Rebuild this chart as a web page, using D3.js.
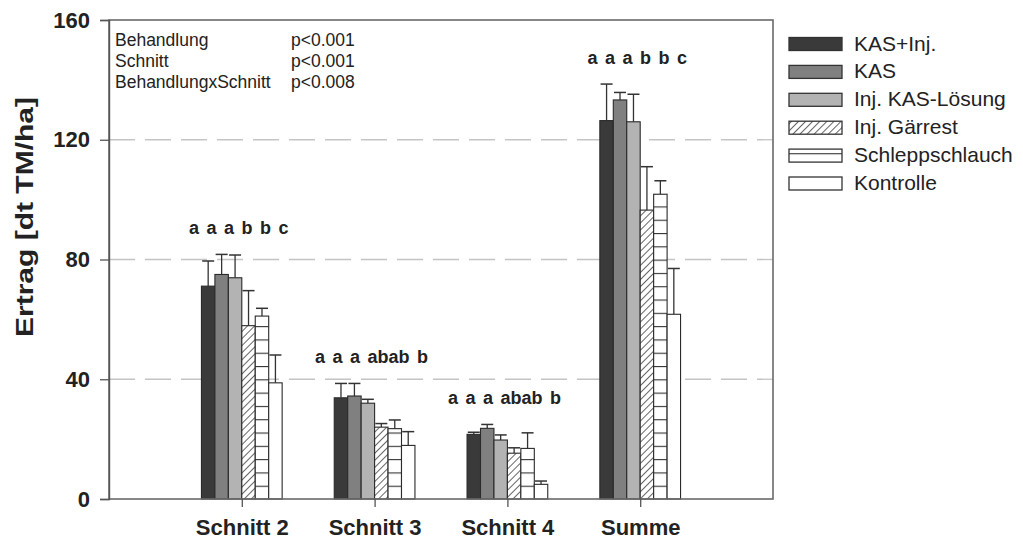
<!DOCTYPE html>
<html><head><meta charset="utf-8">
<script src="https://cdn.jsdelivr.net/npm/d3@7/dist/d3.min.js"></script>
<style>
html,body{margin:0;padding:0;background:#fff;}
svg{display:block;font-family:"Liberation Sans",Arial,sans-serif;}
</style></head>
<body><svg id="c" width="1023" height="543"></svg>
<script>
const categories = ["Schnitt 2", "Schnitt 3", "Schnitt 4", "Summe"];
const series = ["KAS+Inj.", "KAS", "Inj. KAS-Lösung", "Inj. Gärrest", "Schleppschlauch", "Kontrolle"];
// mean values per series (order of categories)
const valKASInj   = [71.1, 33.8, 21.6, 126.4];
const valKAS      = [75.0, 34.4, 23.6, 133.3];
const valLoesung  = [73.9, 32.0, 19.7, 126.0];
const valGaerrest = [57.9, 24.0, 15.3, 96.5];
const valSchlepp  = [61.1, 23.5, 16.9, 101.8];
const valKontrolle= [38.8, 17.9, 4.9, 61.7];
// upper end of error bars
const errKASInj   = [79.5, 38.6, 22.3, 138.6];
const errKAS      = [81.7, 38.6, 24.9, 135.8];
const errLoesung  = [81.5, 33.3, 21.4, 135.2];
const errGaerrest = [69.6, 25.2, 17.1, 111.0];
const errSchlepp  = [63.7, 26.4, 22.1, 106.3];
const errKontrolle= [48.1, 22.5, 6.0, 77.0];
const letters = ["a a a b b c", "a a a abab b", "a a a abab b", "a a a b b c"];
const yTicks = [0, 40, 80, 120, 160];
const gridTicks = [40, 80, 120];
const statLabels = ["Behandlung", "Schnitt", "BehandlungxSchnitt"];
const statValues = ["p<0.001", "p<0.001", "p<0.008"];

const values = [valKASInj, valKAS, valLoesung, valGaerrest, valSchlepp, valKontrolle];
const errors = [errKASInj, errKAS, errLoesung, errGaerrest, errSchlepp, errKontrolle];

const svg = d3.select("#c");
const L = 109, R = 773, T = 20, B = 499;
const y = d3.scaleLinear().domain([0, 160]).range([B, T]);
const x0 = d3.scaleLinear().domain([0, categories.length + 1]).range([L, R]);
const x1 = d3.scaleBand().domain(series).range([-40.35, 40.35]).paddingInner(0);
const bw = x1.bandwidth();

// patterns
const defs = svg.append("defs");
const hatch = defs.append("pattern").attr("id", "hatch").attr("patternUnits", "userSpaceOnUse")
  .attr("width", 5).attr("height", 5).attr("patternTransform", "rotate(45)");
hatch.append("rect").attr("width", 5).attr("height", 5).attr("fill", "#fff");
hatch.append("line").attr("x1", 0).attr("y1", 0).attr("x2", 0).attr("y2", 5)
  .attr("stroke", "#333").attr("stroke-width", 1.5);
const hl = defs.append("pattern").attr("id", "hlines").attr("patternUnits", "userSpaceOnUse")
  .attr("width", 20).attr("height", 13.3).attr("y", 499 % 13.3);
hl.append("rect").attr("width", 20).attr("height", 13.3).attr("fill", "#fff");
hl.append("line").attr("x1", 0).attr("x2", 20).attr("y1", 0.5).attr("y2", 0.5)
  .attr("stroke", "#333").attr("stroke-width", 1.2);

const fills = ["#3a3a3a", "#808080", "#b3b3b3", "url(#hatch)", "url(#hlines)", "#ffffff"];

// grid lines
svg.append("g").selectAll("line").data(gridTicks).join("line")
  .attr("x1", L).attr("x2", R).attr("y1", d => y(d)).attr("y2", d => y(d))
  .attr("stroke", "#c4c4c4").attr("stroke-width", 1.3).attr("stroke-dasharray", "26,10");

// bars
const bars = svg.append("g");
series.forEach((s, si) => {
  categories.forEach((c, ci) => {
    const cx = x0(ci + 1) + x1(s);
    const v = values[si][ci], e = errors[si][ci];
    const mid = cx + bw / 2;
    bars.append("line").attr("x1", mid).attr("x2", mid).attr("y1", y(v)).attr("y2", y(e))
      .attr("stroke", "#333").attr("stroke-width", 1.3);
    bars.append("line").attr("x1", mid - 6).attr("x2", mid + 6).attr("y1", y(e)).attr("y2", y(e))
      .attr("stroke", "#333").attr("stroke-width", 1.5);
    bars.append("rect").attr("x", cx).attr("y", y(v)).attr("width", bw).attr("height", y(0) - y(v))
      .attr("fill", fills[si]).attr("stroke", "#2a2a2a").attr("stroke-width", 1.1);
  });
});

// frame
svg.append("rect").attr("x", L).attr("y", T).attr("width", R - L).attr("height", B - T)
  .attr("fill", "none").attr("stroke", "#6a6a6a").attr("stroke-width", 1.6);

// y axis
const yAxis = d3.axisLeft(y).tickValues(yTicks).tickSize(9).tickPadding(10).tickFormat(d3.format("d"));
const ya = svg.append("g").attr("transform", `translate(${L},0)`).call(yAxis);
ya.select(".domain").attr("stroke", "#555").attr("stroke-width", 1.4);
ya.selectAll(".tick line").attr("stroke", "#555").attr("stroke-width", 1.3);
ya.selectAll(".tick text").attr("font-family", "Liberation Sans, Arial, sans-serif")
  .attr("font-size", 22).attr("font-weight", "bold").attr("fill", "#222");

// x axis
const xAxis = d3.axisBottom(x0).tickValues(categories.map((c, i) => i + 1))
  .tickFormat((d) => categories[d - 1]).tickSize(8).tickPadding(12);
const xa = svg.append("g").attr("transform", `translate(0,${B})`).call(xAxis);
xa.select(".domain").remove();
xa.selectAll(".tick line").attr("stroke", "#555").attr("stroke-width", 1.3);
xa.selectAll(".tick text").attr("font-family", "Liberation Sans, Arial, sans-serif")
  .attr("font-size", 22).attr("font-weight", "bold").attr("fill", "#222");

// y title
svg.append("text").attr("transform", "translate(33,217) rotate(-90)")
  .attr("text-anchor", "middle").attr("font-size", 24).attr("font-weight", "bold").attr("fill", "#222")
  .attr("textLength", 240).attr("lengthAdjust", "spacingAndGlyphs")
  .text("Ertrag [dt TM/ha]");

// significance letters
categories.forEach((c, ci) => {
  const maxE = d3.max(errors, e => e[ci]);
  svg.append("text").attr("x", x0(ci + 1) - 3).attr("y", y(maxE) - 20)
    .attr("text-anchor", "middle").attr("font-size", 18).attr("font-weight", "bold").attr("fill", "#222")
    .attr("word-spacing", 2.5).style("white-space", "pre").text(letters[ci]);
});

// stats annotation
statLabels.forEach((t, i) => {
  svg.append("text").attr("x", 115).attr("y", 46 + i * 21).attr("font-size", 17.5).attr("fill", "#222").text(t);
  svg.append("text").attr("x", 291).attr("y", 46 + i * 21).attr("font-size", 17.5).attr("fill", "#222").text(statValues[i]);
});

// legend
const lg = svg.append("g");
series.forEach((s, i) => {
  const yy = 37.5 + i * 27.9;
  lg.append("rect").attr("x", 789).attr("y", yy).attr("width", 53).attr("height", 13)
    .attr("fill", fills[i]).attr("stroke", "#333").attr("stroke-width", 1.3);
  lg.append("text").attr("x", 854).attr("y", yy + 13).attr("font-size", 21).attr("fill", "#222").text(s);
});
</script></body></html>
